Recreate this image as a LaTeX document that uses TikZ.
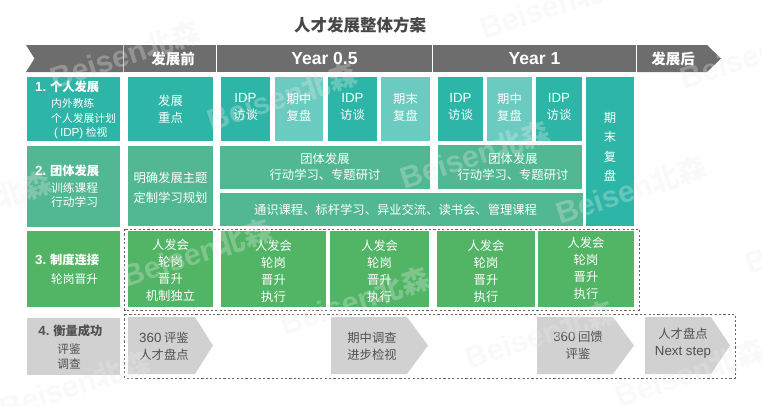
\documentclass[tikz,border=0pt]{standalone}
\usepackage{fontspec}
\setmainfont{Liberation Sans}[Scale=1.08]
\newfontfamily\cjk{Noto Sans CJK SC}
\newcommand{\bodyfont}{\cjk\fontsize{12.3}{17}\selectfont}
\newcommand{\lat}[1]{{\rmfamily #1}}

\definecolor{headgray}{HTML}{6D6D6D}
\definecolor{tealbox}{HTML}{2DB6A7}
\definecolor{paletealbox}{HTML}{6BCBC0}
\definecolor{seabox}{HTML}{52B793}
\definecolor{greenbox}{HTML}{51B565}
\definecolor{graybox}{HTML}{D1D1D1}
\definecolor{darktext}{HTML}{505050}

\tikzset{
    headtext/.style={text=white, font=\cjk\bfseries\fontsize{14.5}{17}\selectfont},
    yeartext/.style={text=white, font=\rmfamily\bfseries\fontsize{16.2}{17}\selectfont},
    bodytext/.style={text=white, font=\bodyfont, align=center, inner sep=0pt},
    darkbody/.style={text=darktext, font=\bodyfont, align=center, inner sep=0pt},
    smalltext/.style={text=white, anchor=west, inner sep=0pt, font=\cjk\fontsize{10.8}{13}\selectfont},
    midtext/.style={text=white, anchor=west, inner sep=0pt, font=\cjk\fontsize{11.7}{13}\selectfont},
    labeltext/.style={text=white, anchor=west, inner sep=0pt, font=\cjk\bfseries\fontsize{12.3}{15}\selectfont},
    framebox/.style={draw=black!60, line width=0.9pt, dash pattern=on 2.2pt off 2.2pt},
    markfont/.style={text=black!8, opacity=0.3, rotate=18, font=\bfseries\fontsize{28}{30}\selectfont},
}

\begin{document}
\begin{tikzpicture}[x=1pt, y=-1pt]
    \clip (0,0) rectangle (762,405);

    \node[text=black!72, font=\cjk\bfseries\fontsize{16.5}{20}\selectfont] (title) at (360,25) {人才发展整体方案};

    % header band
    \fill[headgray] (26,45) -- (123.3,45) -- (123.3,72) -- (26,72) -- (34.5,58.5) -- cycle;
    \fill[headgray] (124.3,45) rectangle node[headtext, xshift=3pt] (before) {发展前} (216,72);
    \fill[headgray] (217,45) rectangle node[yeartext] (yearhalf) {Year 0.5} (432,72);
    \fill[headgray] (433,45) rectangle node[yeartext] (yearone) {Year 1} (636,72);
    \fill[headgray] (637,45) -- (707,45) -- (721,58.5) -- (707,72) -- (637,72) -- cycle;
    \node[headtext] (after) at (673,58.5) {发展后};

    % row 1
    \fill[tealbox] (27,77) rectangle (120,141);
    \node[labeltext] (lab1) at (35,87) {\lat{\bfseries 1.} 个人发展};
    \node[smalltext] (lab1a) at (51,103) {内外教练};
    \node[smalltext] (lab1b) at (51,118) {个人发展计划};
    \node[smalltext] (lab1c) at (54,133) {\lat{(\,IDP)} 检视};
    \fill[tealbox] (128,77) rectangle node[bodytext] (focus) {发展\\重点} (213,141);
    \fill[tealbox] (221,77) rectangle node[bodytext, yshift=2pt] (idpa) {\lat{IDP}\\访谈} (270,141);
    \fill[paletealbox] (275,77) rectangle node[bodytext, yshift=2pt] (mida) {期中\\复盘} (323,141);
    \fill[tealbox] (328,77) rectangle node[bodytext, yshift=2pt] (idpb) {\lat{IDP}\\访谈} (377,141);
    \fill[paletealbox] (381,77) rectangle node[bodytext, yshift=2pt] (enda) {期末\\复盘} (430,141);
    \fill[tealbox] (438,77) rectangle node[bodytext, yshift=2pt] (idpc) {\lat{IDP}\\访谈} (483,141);
    \fill[paletealbox] (487,77) rectangle node[bodytext, yshift=2pt] (midb) {期中\\复盘} (532,141);
    \fill[tealbox] (536,77) rectangle node[bodytext, yshift=2pt] (idpd) {\lat{IDP}\\访谈} (582,141);
    \fill[tealbox] (586,77) rectangle node[bodytext, font=\cjk\fontsize{12.3}{19.5}\selectfont, yshift=5pt] (endb) {期\\末\\复\\盘} (634,226);

    % row 2
    \fill[seabox] (27,146) rectangle (120,227);
    \node[labeltext] (lab2) at (35,171) {\lat{\bfseries 2.} 团体发展};
    \node[midtext] (lab2a) at (51,188) {训练课程};
    \node[midtext] (lab2b) at (51,202) {行动学习};
    \fill[seabox] (128,146) rectangle node[bodytext, font=\cjk\fontsize{12.3}{20}\selectfont, yshift=-2pt] (plan) {明确发展主题\\定制学习规划} (213,226);
    \fill[seabox] (220,146) rectangle node[bodytext, font=\cjk\fontsize{12.3}{16}\selectfont, yshift=1pt] (teama) {团体发展\\行动学习、专题研讨} (430,189);
    \fill[seabox] (438,145) rectangle node[bodytext, font=\cjk\fontsize{12.3}{15.5}\selectfont, xshift=3pt] (teamb) {团体发展\\行动学习、专题研讨} (582,189);
    \fill[seabox] (220,193) rectangle node[bodytext, xshift=-6pt] (course) {通识课程、标杆学习、异业交流、读书会、管理课程} (583,226);

    % row 3
    \fill[greenbox] (27,231) rectangle (120,307);
    \node[labeltext] (lab3) at (35,260) {\lat{\bfseries 3.} 制度连接};
    \node[midtext] (lab3a) at (51,279) {轮岗晋升};
    \fill[greenbox] (128,231) rectangle node[bodytext, yshift=-1pt] (sysa) {人发会\\轮岗\\晋升\\机制独立} (213,307);
    \fill[greenbox] (221,231) rectangle node[bodytext, yshift=-2pt] (sysb) {人发会\\轮岗\\晋升\\执行} (326,307);
    \fill[greenbox] (330,231) rectangle node[bodytext, yshift=-2pt] (sysc) {人发会\\轮岗\\晋升\\执行} (429,307);
    \fill[greenbox] (437,231) rectangle node[bodytext, yshift=-2pt] (sysd) {人发会\\轮岗\\晋升\\执行} (535,307);
    \fill[greenbox] (538,231) rectangle node[bodytext, yshift=1pt] (syse) {人发会\\轮岗\\晋升\\执行} (634,307);
    \draw[framebox] (124.5,229) rectangle (639,310);

    % row 4
    \fill[graybox] (27,318) rectangle (120,375);
    \node[text=darktext, font=\cjk\bfseries\fontsize{12.3}{15}\selectfont, inner sep=0pt] (lab4) at (70.5,331) {\lat{\bfseries 4.} 衡量成功};
    \node[darkbody, font=\cjk\fontsize{11.7}{15}\selectfont] (lab4a) at (69,356.5) {评鉴\\调查};
    \fill[graybox] (128,317) -- (195,317) -- (213,345.5) -- (195,374) -- (128,374) -- cycle;
    \node[darkbody] (stepa) at (164,346) {\lat{360} 评鉴\\人才盘点};
    \fill[graybox] (331,317) -- (407,317) -- (428,345.5) -- (407,374) -- (331,374) -- cycle;
    \node[darkbody] (stepb) at (372,346) {期中调查\\进步检视};
    \fill[graybox] (537,317) -- (613,317) -- (634,345.5) -- (613,374) -- (537,374) -- cycle;
    \node[darkbody] (stepc) at (578,345) {\lat{360} 回馈\\评鉴};
    \fill[graybox] (645,317) -- (711,317) -- (730,345.5) -- (711,374) -- (645,374) -- cycle;
    \node[darkbody] (stepd) at (683,343.5) {人才盘点\\\lat{Next step}};
    \draw[framebox] (124.5,314) rectangle (735,378);

    % watermark
    \foreach \mx/\my [count=\mi] in {125/55, 282/97, 475/155, 631/190, 555/5, 755/55, -23/205, 197/253, 355/301, 540/335, 690/373, 820/240, 75/385}
        \node[markfont] (mark\mi) at (\mx,\my) {Beisen{\cjk 北森}};
\end{tikzpicture}
\end{document}
